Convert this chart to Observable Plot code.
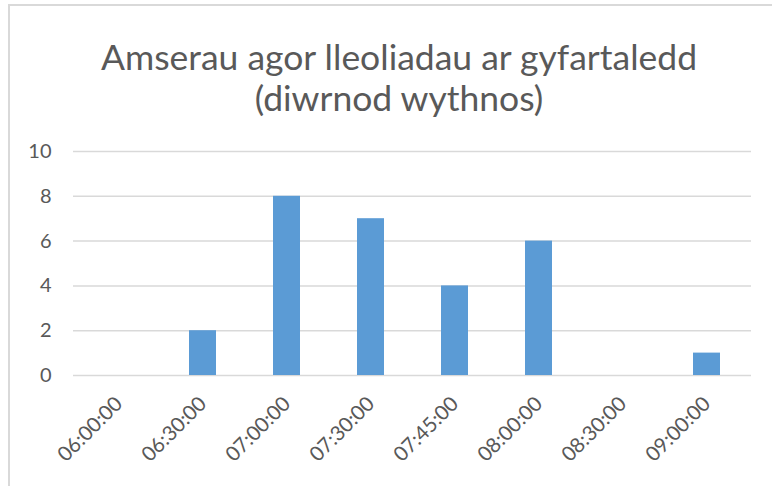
<!DOCTYPE html>
<html>
<head>
<meta charset="utf-8">
<script src="https://cdn.jsdelivr.net/npm/d3@7"></script>
<script src="https://cdn.jsdelivr.net/npm/@observablehq/plot@0.6"></script>
<style>
  html, body { margin: 0; padding: 0; background: #fff; }
  #wrap { position: relative; width: 772px; height: 486px; overflow: hidden; font-family: Lato, "Open Sans", sans-serif; }
  #frame { position: absolute; left: 8px; top: 4px; right: -10px; bottom: -10px; border-left: 2px solid #d9d9d9; border-top: 2px solid #d9d9d9; }
  #title { position: absolute; left: 0; top: 36px; width: 798px; text-align: center; color: #595959; font-size: 35.5px; line-height: 41px; font-family: Lato, "Open Sans", sans-serif; }
  #chart { position: absolute; left: 0; top: 0; }
</style>
</head>
<body>
<div id="wrap">
  <div id="frame"></div>
  <div id="chart"></div>
  <div id="title">Amserau agor lleoliadau ar gyfartaledd<br>(diwrnod wythnos)</div>
</div>
<script>
const categories = ["06:00:00", "06:30:00", "07:00:00", "07:30:00", "07:45:00", "08:00:00", "08:30:00", "09:00:00"];
const values = [0, 2, 8, 7, 4, 6, 0, 1];
const yTicks = [0, 2, 4, 6, 8, 10];

const data = categories.map((c, i) => ({ time: c, count: values[i] }));

const chart = Plot.plot({
  width: 772,
  height: 486,
  marginLeft: 73,
  marginRight: 21,
  marginTop: 151,
  marginBottom: 111,
  style: { fontFamily: "Lato, 'Open Sans', sans-serif", fontSize: "20px", color: "#595959", background: "transparent" },
  x: { domain: categories, paddingInner: 0.68, paddingOuter: 0.34 },
  y: { domain: [0, 10] },
  marks: [
    Plot.ruleY(yTicks, { stroke: "#d9d9d9", strokeWidth: 1.5 }),
    Plot.barY(data, { x: "time", y: "count", fill: "#5B9BD5" }),
    Plot.axisY({ ticks: yTicks, tickSize: 0, tickPadding: 22, label: null, fontSize: 20, fill: "#595959" }),
    Plot.axisX({ tickRotate: -45, tickSize: 0, tickPadding: 25, label: null, fontSize: 20.5, fill: "#595959" })
  ]
});
document.getElementById("chart").appendChild(chart);
</script>
</body>
</html>
